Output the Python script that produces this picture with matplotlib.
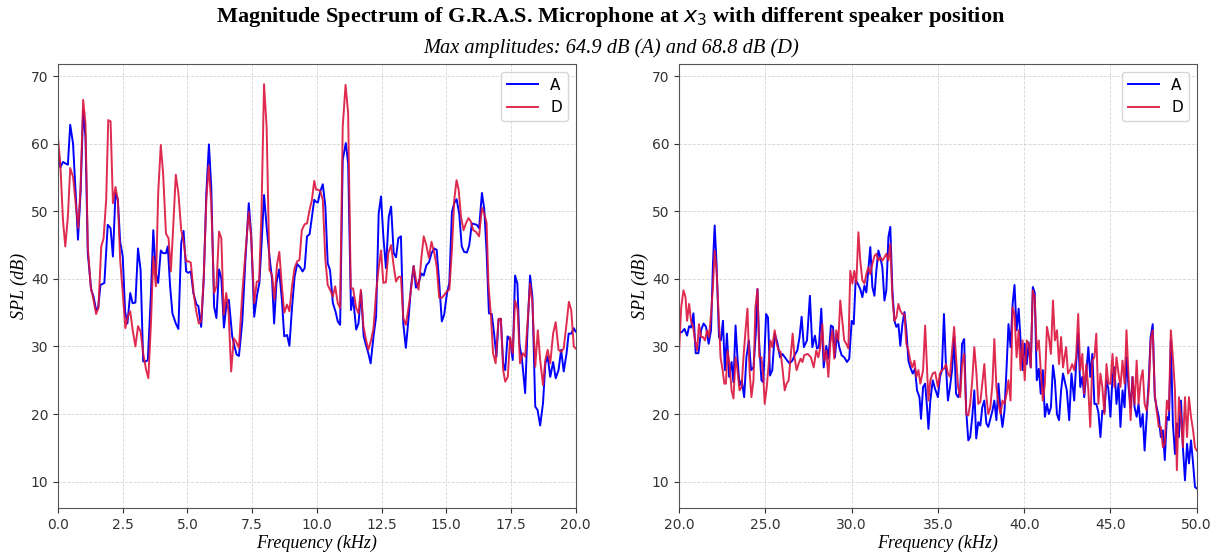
import matplotlib
matplotlib.use("Agg")
import matplotlib.pyplot as plt
from matplotlib.ticker import FormatStrFormatter

# ---- data (kHz, dB) ----
# left panel, speaker position A
freq_left_a = [0.0, 0.09, 0.19, 0.32, 0.38, 0.47, 0.58, 0.68, 0.77, 0.87, 0.97, 1.06, 1.15, 1.28, 1.37,
               1.47, 1.55, 1.64, 1.79, 1.92, 2.03, 2.12, 2.22, 2.31, 2.40, 2.50, 2.59, 2.68, 2.79, 2.88,
               2.99, 3.09, 3.19, 3.29, 3.40, 3.47, 3.59, 3.68, 3.78, 3.87, 3.97, 4.06, 4.17, 4.24, 4.33,
               4.42, 4.55, 4.65, 4.76, 4.85, 4.95, 5.04, 5.13, 5.23, 5.35, 5.42, 5.53, 5.63, 5.73, 5.83,
               5.92, 6.03, 6.12, 6.22, 6.31, 6.41, 6.51, 6.60, 6.73, 6.82, 6.90, 6.99, 7.12, 7.24, 7.37,
               7.46, 7.58, 7.69, 7.78, 7.88, 7.96, 8.06, 8.17, 8.27, 8.35, 8.44, 8.54, 8.65, 8.74, 8.85,
               8.94, 9.04, 9.14, 9.24, 9.36, 9.45, 9.53, 9.62, 9.72, 9.81, 9.90, 9.97,
               10.04, 10.13, 10.23, 10.33, 10.42, 10.51, 10.62, 10.72, 10.81, 10.90, 11.00, 11.12, 11.21,
               11.32, 11.40, 11.52, 11.61, 11.71, 11.81, 11.90, 11.99, 12.08, 12.19, 12.29, 12.39, 12.48,
               12.57, 12.67, 12.78, 12.87, 12.97, 13.06, 13.15, 13.25, 13.34, 13.44, 13.55, 13.64, 13.74,
               13.83, 13.93, 14.04, 14.13, 14.23, 14.34, 14.43, 14.54, 14.63, 14.73, 14.83, 14.92, 15.03,
               15.12, 15.22, 15.31, 15.40, 15.50, 15.60, 15.69, 15.80, 15.89, 15.99, 16.08, 16.18, 16.27,
               16.38, 16.47, 16.56, 16.65, 16.76, 16.85, 16.94, 17.02, 17.11, 17.20, 17.28, 17.37, 17.47,
               17.57, 17.66, 17.75, 17.83, 17.93, 18.05, 18.14, 18.24, 18.33, 18.44, 18.53, 18.63, 18.74,
               18.83, 18.92, 19.02, 19.13, 19.23, 19.34, 19.44, 19.54, 19.65, 19.73, 19.83, 19.93, 20.0]
spl_left_a = [59.0, 56.5, 57.3, 57.0, 56.9, 62.8, 60.0, 52.7, 45.8, 52.7, 64.9, 61.0, 43.8, 38.4, 37.4,
              35.4, 35.7, 39.1, 39.4, 48.0, 47.5, 43.3, 52.7, 51.7, 45.5, 43.3, 35.2, 33.4, 37.9, 36.4,
              36.5, 44.5, 41.3, 27.8, 27.8, 28.0, 37.9, 47.2, 40.8, 39.4, 44.2, 43.8, 43.8, 44.8, 38.9,
              34.9, 33.4, 32.6, 45.3, 47.1, 41.1, 40.9, 41.1, 37.9, 36.2, 36.0, 32.9, 39.9, 52.7, 59.9,
              53.6, 35.9, 34.2, 41.4, 40.1, 32.8, 36.4, 36.9, 31.5, 30.0, 28.8, 28.6, 33.7, 42.8, 51.2,
              46.7, 34.4, 37.6, 39.4, 46.3, 52.4, 47.7, 43.3, 39.9, 33.4, 39.4, 41.4, 36.9, 31.5, 31.7,
              30.1, 35.7, 40.3, 42.2, 41.7, 41.1, 41.6, 46.3, 46.6, 49.2, 51.7, 51.4,
              51.3, 52.9, 54.0, 50.7, 42.3, 41.3, 36.4, 35.2, 33.7, 33.2, 57.6, 60.1, 57.1,
              35.4, 37.3, 32.5, 33.4, 38.1, 31.5, 30.2, 29.0, 27.5, 31.5, 34.4, 49.7, 52.2,
              46.3, 41.6, 49.2, 50.7, 43.8, 43.2, 46.0, 46.3, 33.4, 29.8, 34.4, 38.9, 41.9,
              38.7, 39.4, 40.8, 40.5, 42.0, 42.5, 43.8, 44.5, 44.3, 39.4, 33.7, 34.7, 37.9,
              39.4, 49.9, 51.2, 51.8, 49.7, 44.8, 44.0, 43.9, 45.0, 48.2, 48.1, 48.0, 47.5,
              52.7, 50.3, 44.0, 34.9, 34.8, 31.9, 28.5, 33.9, 34.1, 27.5, 26.5, 31.5, 30.9,
              28.0, 40.5, 39.3, 30.4, 28.0, 23.1, 32.4, 40.5, 37.3, 21.1, 20.6, 18.3, 21.6,
              27.5, 28.5, 25.5, 27.7, 25.3, 26.5, 29.5, 26.3, 29.0, 31.9, 31.9, 32.7, 32.2]

# left panel, speaker position D
freq_left_d = [0.0, 0.09, 0.19, 0.28, 0.38, 0.47, 0.58, 0.68, 0.78, 0.87, 0.97, 1.06, 1.15, 1.26, 1.37,
               1.47, 1.56, 1.67, 1.76, 1.86, 1.94, 2.03, 2.12, 2.22, 2.31, 2.40, 2.50, 2.60, 2.69, 2.79,
               2.88, 2.99, 3.09, 3.19, 3.29, 3.40, 3.49, 3.59, 3.68, 3.78, 3.87, 3.97, 4.06, 4.17, 4.27,
               4.36, 4.45, 4.55, 4.65, 4.76, 4.85, 4.95, 5.04, 5.13, 5.24, 5.33, 5.44, 5.53, 5.63, 5.73,
               5.82, 5.92, 6.03, 6.12, 6.22, 6.31, 6.40, 6.50, 6.59, 6.69, 6.79, 6.88, 6.99, 7.12, 7.24,
               7.37, 7.47, 7.58, 7.68, 7.77, 7.86, 7.96, 8.06, 8.17, 8.27, 8.36, 8.46, 8.55, 8.65, 8.74,
               8.85, 8.94, 9.04, 9.14, 9.24, 9.33, 9.42, 9.53, 9.62, 9.72, 9.81, 9.90, 9.97,
               10.04, 10.13, 10.23, 10.33, 10.42, 10.51, 10.62, 10.71, 10.81, 10.90, 11.00, 11.11, 11.21,
               11.31, 11.40, 11.52, 11.61, 11.70, 11.80, 11.90, 11.99, 12.10, 12.19, 12.29, 12.38, 12.48,
               12.57, 12.67, 12.76, 12.87, 12.97, 13.06, 13.16, 13.25, 13.34, 13.44, 13.55, 13.64, 13.74,
               13.83, 13.93, 14.04, 14.13, 14.23, 14.33, 14.43, 14.54, 14.63, 14.73, 14.83, 14.94, 15.03,
               15.12, 15.22, 15.31, 15.40, 15.48, 15.57, 15.67, 15.76, 15.86, 15.95, 16.04, 16.14, 16.27,
               16.38, 16.48, 16.56, 16.63, 16.73, 16.81, 16.91, 17.02, 17.11, 17.20, 17.28, 17.38, 17.47,
               17.57, 17.66, 17.76, 17.85, 17.96, 18.05, 18.14, 18.24, 18.33, 18.44, 18.54, 18.63, 18.74,
               18.83, 18.92, 19.02, 19.13, 19.23, 19.34, 19.44, 19.54, 19.65, 19.74, 19.83, 19.93, 20.0]
spl_left_d = [60.8, 56.8, 48.7, 44.8, 49.2, 56.4, 55.1, 51.2, 47.5, 53.6, 66.5, 63.0, 44.8, 38.9, 36.9,
              34.8, 35.7, 44.8, 46.0, 51.7, 63.5, 63.3, 51.2, 53.6, 51.7, 42.8, 37.9, 32.7, 34.4, 35.2,
              32.5, 30.0, 33.0, 32.2, 29.0, 26.6, 25.3, 33.4, 43.3, 38.9, 52.7, 59.8, 55.6, 46.7, 46.0,
              41.1, 47.7, 55.4, 52.7, 47.2, 45.5, 42.6, 42.6, 42.4, 37.9, 35.4, 33.4, 33.7, 40.3, 51.7,
              56.8, 51.2, 37.9, 38.9, 47.0, 46.0, 34.7, 37.9, 35.0, 26.3, 31.2, 30.7, 29.8, 37.9, 43.8,
              49.9, 45.8, 36.4, 39.6, 39.7, 49.7, 68.8, 62.5, 41.3, 40.6, 36.9, 42.1, 44.0, 38.9, 35.0,
              36.2, 35.2, 38.9, 41.6, 42.6, 42.8, 47.2, 48.1, 48.2, 50.2, 51.7, 54.5, 53.2,
              53.2, 53.0, 51.7, 42.8, 39.1, 38.4, 37.4, 38.9, 36.4, 35.7, 62.5, 68.7, 64.5,
              38.6, 38.6, 35.7, 34.9, 38.4, 33.0, 31.0, 29.5, 31.0, 32.7, 37.9, 41.3, 44.2,
              39.4, 39.5, 43.8, 45.0, 41.9, 39.6, 40.3, 40.3, 34.2, 33.2, 35.9, 38.4, 41.9,
              39.9, 38.4, 43.1, 46.3, 45.0, 43.1, 45.5, 43.8, 41.9, 37.2, 37.2, 37.7, 38.2,
              38.4, 44.3, 51.7, 54.6, 53.2, 49.2, 47.2, 48.2, 49.0, 48.5, 47.2, 47.0, 46.3,
              50.5, 49.5, 48.3, 39.3, 34.4, 29.0, 27.5, 34.1, 34.1, 26.5, 24.8, 25.5, 31.4,
              29.0, 36.8, 35.4, 27.5, 29.0, 28.5, 33.4, 39.3, 36.4, 27.0, 32.4, 28.0, 24.3,
              28.0, 29.5, 27.5, 31.9, 33.6, 29.5, 29.2, 29.7, 33.4, 36.6, 35.4, 30.0, 29.7]

# right panel, speaker position A
freq_right_a = [20.0, 20.15, 20.31, 20.46, 20.58, 20.69, 20.83, 20.96, 21.12, 21.27, 21.42, 21.56, 21.71,
                21.85, 21.96, 22.06, 22.17, 22.31, 22.42, 22.54, 22.65, 22.77, 22.90, 23.04, 23.15, 23.27,
                23.38, 23.50, 23.63, 23.77, 23.90, 24.04, 24.17, 24.31, 24.44, 24.54, 24.63, 24.77, 24.88,
                25.04, 25.15, 25.27, 25.40, 25.54, 25.69, 25.85, 25.98, 26.13, 26.27, 26.40, 26.56, 26.69,
                26.85, 26.98, 27.10, 27.23, 27.41, 27.58, 27.72, 27.87, 27.99, 28.10, 28.24, 28.38, 28.53,
                28.65, 28.80, 28.92, 29.03, 29.15, 29.28, 29.42, 29.57, 29.73, 29.86, 30.00, 30.12, 30.23,
                30.35, 30.50, 30.62, 30.74, 30.85, 30.97, 31.08, 31.20, 31.32, 31.43, 31.55, 31.66, 31.78,
                31.90, 32.01, 32.13, 32.24, 32.36, 32.48, 32.59, 32.71, 32.82, 32.94, 33.06, 33.17, 33.29,
                33.40, 33.54, 33.67, 33.79, 33.93, 34.02, 34.14, 34.26, 34.37, 34.45, 34.56, 34.70, 34.84,
                35.00, 35.12, 35.23, 35.35, 35.47, 35.58, 35.70, 35.82, 35.94, 36.05, 36.17, 36.29, 36.40,
                36.52, 36.64, 36.76, 36.87, 36.99, 37.11, 37.22, 37.34, 37.46, 37.57, 37.69, 37.81, 37.92,
                38.04, 38.16, 38.27, 38.39, 38.51, 38.63, 38.74, 38.86, 38.98, 39.09, 39.21, 39.33, 39.44,
                39.56, 39.68, 39.79, 39.91, 40.03, 40.15, 40.26, 40.38, 40.50, 40.61, 40.73, 40.85, 40.96,
                41.08, 41.20, 41.32, 41.43, 41.55, 41.67, 41.78, 41.90, 42.02, 42.14, 42.25, 42.47, 42.61,
                42.74, 42.90, 43.01, 43.13, 43.25, 43.37, 43.48, 43.60, 43.72, 43.83, 43.95, 44.07, 44.18,
                44.30, 44.42, 44.53, 44.65, 44.77, 44.88, 45.00, 45.12, 45.23, 45.35, 45.47, 45.58, 45.70,
                45.82, 45.93, 46.05, 46.17, 46.28, 46.40, 46.52, 46.63, 46.75, 46.87, 46.98, 47.10, 47.22,
                47.33, 47.45, 47.57, 47.68, 47.80, 47.92, 48.04, 48.15, 48.27, 48.39, 48.50, 48.62, 48.74,
                48.85, 48.97, 49.09, 49.20, 49.32, 49.44, 49.55, 49.67, 49.79, 49.90, 50.0]
spl_right_a = [32.1, 32.1, 32.6, 31.6, 33.0, 32.8, 34.9, 29.0, 29.0, 32.4, 33.4, 32.9, 30.4,
               32.4, 42.2, 47.9, 42.2, 31.4, 30.9, 33.8, 26.5, 31.9, 25.5, 27.7, 24.7, 33.1,
               28.4, 24.2, 25.0, 22.5, 28.4, 30.9, 26.5, 26.9, 31.9, 38.5, 30.9, 25.0, 24.7,
               34.8, 34.3, 25.7, 26.5, 31.9, 30.6, 28.4, 28.9, 28.4, 27.9, 27.5, 27.9, 28.7,
               29.4, 31.4, 34.4, 29.9, 30.9, 37.5, 29.9, 31.6, 29.7, 29.9, 35.6, 26.9, 30.1,
               28.2, 33.1, 32.9, 28.4, 31.9, 29.9, 28.7, 28.4, 27.7, 28.2, 33.8, 33.3, 39.8,
               39.3, 38.5, 37.3, 39.0, 38.0, 41.5, 44.7, 38.8, 37.5, 41.2, 44.2, 43.2, 41.7,
               36.8, 38.3, 46.2, 47.7, 38.3, 33.8, 32.9, 33.3, 30.1, 33.3, 35.1, 32.4, 27.9,
               26.9, 26.0, 26.7, 23.5, 22.5, 19.3, 24.0, 24.5, 21.0, 17.8, 22.0, 25.0, 23.7,
               22.5, 25.5, 26.5, 34.8, 26.9, 22.0, 24.0, 26.5, 31.4, 23.0, 22.5, 23.5, 30.4,
               31.1, 20.5, 16.1, 16.6, 19.6, 23.5, 16.4, 18.8, 18.3, 21.0, 22.0, 18.6, 18.1,
               19.3, 20.5, 22.0, 19.1, 24.5, 20.5, 18.1, 20.5, 26.9, 33.3, 29.9, 36.3, 39.1,
               32.4, 35.6, 30.9, 26.5, 30.4, 27.4, 30.6, 26.9, 38.8, 38.0, 25.0, 26.7, 23.0,
               26.5, 19.6, 21.5, 20.0, 21.0, 27.2, 25.0, 20.0, 19.1, 23.5, 26.0, 23.5, 19.1,
               26.0, 22.0, 27.4, 31.9, 24.0, 25.5, 22.5, 26.0, 29.9, 25.5, 28.9, 21.5, 21.5,
               20.3, 16.6, 20.5, 20.3, 25.0, 23.7, 19.6, 25.5, 26.9, 21.5, 24.5, 18.1, 23.5,
               21.0, 28.4, 24.0, 21.0, 25.5, 21.0, 19.6, 21.5, 18.1, 20.0, 14.6, 19.6, 25.0,
               31.4, 33.3, 22.5, 21.0, 19.6, 16.6, 17.6, 13.2, 19.6, 19.1, 30.9, 18.6, 14.1,
               18.6, 16.6, 22.0, 15.1, 10.2, 15.6, 12.7, 16.1, 12.7, 9.2, 9.0]

# right panel, speaker position D
freq_right_d = [20.0, 20.12, 20.25, 20.37, 20.46, 20.58, 20.69, 20.81, 20.92, 21.04, 21.15, 21.27, 21.38,
                21.50, 21.62, 21.73, 21.85, 21.96, 22.06, 22.17, 22.29, 22.40, 22.52, 22.62, 22.71, 22.81,
                22.92, 23.04, 23.15, 23.27, 23.38, 23.50, 23.62, 23.73, 23.85, 23.96, 24.08, 24.19, 24.31,
                24.42, 24.54, 24.65, 24.77, 24.88, 24.96, 25.08, 25.19, 25.29, 25.40, 25.54, 25.65, 25.77,
                25.88, 26.00, 26.12, 26.23, 26.35, 26.46, 26.58, 26.69, 26.81, 26.92, 27.04, 27.15, 27.25,
                27.45, 27.64, 27.80, 27.95, 28.07, 28.18, 28.30, 28.41, 28.53, 28.65, 28.76, 28.88, 28.99,
                29.11, 29.23, 29.34, 29.46, 29.57, 29.69, 29.81, 29.92, 30.04, 30.15, 30.27, 30.39, 30.50,
                30.62, 30.74, 30.85, 30.97, 31.08, 31.20, 31.32, 31.43, 31.55, 31.66, 31.78, 31.90, 32.01,
                32.13, 32.24, 32.36, 32.48, 32.59, 32.71, 32.82, 32.94, 33.06, 33.17, 33.29, 33.40, 33.52,
                33.64, 33.75, 33.87, 33.98, 34.14, 34.26, 34.37, 34.45, 34.56, 34.70, 34.84, 35.00, 35.12,
                35.23, 35.35, 35.47, 35.58, 35.70, 35.82, 35.94, 36.05, 36.17, 36.29, 36.40, 36.52, 36.64,
                36.76, 36.87, 36.99, 37.11, 37.22, 37.34, 37.46, 37.57, 37.69, 37.81, 37.92, 38.04, 38.16,
                38.27, 38.39, 38.51, 38.63, 38.74, 38.86, 38.98, 39.09, 39.21, 39.33, 39.44, 39.56, 39.68,
                39.79, 39.91, 40.03, 40.15, 40.26, 40.38, 40.50, 40.61, 40.73, 40.85, 40.96, 41.08, 41.20,
                41.32, 41.43, 41.55, 41.67, 41.78, 41.90, 42.02, 42.14, 42.25, 42.43, 42.54, 42.66, 42.78,
                42.90, 43.01, 43.13, 43.25, 43.37, 43.48, 43.60, 43.72, 43.83, 43.95, 44.07, 44.18, 44.30,
                44.42, 44.53, 44.65, 44.77, 44.88, 45.00, 45.12, 45.23, 45.35, 45.47, 45.58, 45.70, 45.82,
                45.93, 46.05, 46.17, 46.28, 46.40, 46.52, 46.63, 46.75, 46.87, 46.98, 47.10, 47.22, 47.33,
                47.45, 47.57, 47.68, 47.80, 47.92, 48.04, 48.15, 48.27, 48.39, 48.50, 48.62, 48.74, 48.85,
                48.97, 49.09, 49.20, 49.32, 49.44, 49.55, 49.67, 49.79, 49.90, 50.0]
spl_right_d = [29.4, 35.8, 38.3, 37.3, 33.8, 36.3, 33.8, 32.9, 30.9, 29.4, 33.3, 31.4, 31.4,
               30.9, 32.4, 31.4, 34.8, 38.8, 44.2, 41.2, 34.8, 28.4, 26.5, 24.5, 24.5, 29.4,
               27.4, 23.5, 22.3, 28.4, 26.5, 23.5, 24.0, 28.4, 32.4, 35.6, 26.5, 22.5, 25.0,
               35.8, 38.5, 28.4, 28.4, 25.5, 21.5, 24.0, 27.4, 30.9, 29.9, 32.4, 30.4, 29.4,
               29.2, 26.5, 23.5, 24.5, 25.0, 28.4, 31.9, 28.4, 26.5, 27.4, 28.2, 27.7, 28.7,
               28.9, 28.4, 26.9, 29.4, 28.4, 29.9, 33.3, 27.9, 29.4, 25.5, 30.4, 32.4, 28.2,
               32.4, 30.9, 36.8, 33.8, 30.9, 30.4, 29.7, 41.2, 39.3, 41.2, 39.3, 46.9, 42.7,
               39.8, 39.3, 40.7, 41.7, 40.7, 42.2, 43.4, 43.7, 42.7, 43.2, 42.7, 43.2, 43.7,
               42.7, 45.2, 37.3, 33.8, 34.3, 36.3, 35.3, 34.8, 34.8, 30.4, 29.4, 27.9, 26.9,
               27.9, 25.5, 26.5, 24.5, 26.5, 33.1, 26.5, 22.0, 25.0, 26.0, 26.2, 24.0, 26.0,
               26.5, 26.7, 27.4, 26.0, 25.5, 29.4, 32.9, 28.4, 24.0, 22.5, 27.4, 28.9, 20.0,
               19.8, 21.5, 25.0, 29.9, 26.5, 21.5, 21.8, 24.5, 27.4, 22.5, 20.0, 21.0, 24.5,
               31.1, 24.0, 21.5, 20.0, 22.0, 21.5, 23.0, 25.0, 22.0, 35.8, 34.8, 28.4, 32.4,
               26.5, 30.9, 25.0, 30.9, 30.4, 26.9, 38.3, 37.3, 29.4, 30.9, 26.5, 22.0, 24.5,
               32.9, 31.4, 28.9, 36.8, 30.9, 32.4, 27.4, 31.4, 26.9, 29.9, 26.0, 26.5, 27.4,
               26.5, 28.4, 34.8, 26.5, 28.9, 23.0, 27.4, 23.5, 18.1, 27.9, 28.4, 31.9, 21.5,
               26.0, 24.0, 20.0, 27.4, 24.5, 24.5, 28.9, 24.0, 28.4, 26.0, 24.0, 27.9, 24.5,
               32.4, 25.5, 19.1, 25.5, 21.5, 27.9, 21.5, 25.0, 26.5, 21.5, 20.5, 23.5, 30.9,
               32.4, 23.0, 20.5, 18.1, 18.1, 15.1, 15.6, 22.0, 20.5, 32.4, 28.4, 23.5, 11.7,
               22.5, 19.6, 15.1, 22.5, 16.6, 22.5, 19.6, 17.6, 15.1, 14.6]

max_a = 64.9
max_d = 68.8

fig, axes = plt.subplots(1, 2, figsize=(12.22, 5.56), dpi=100)
fig.subplots_adjust(left=0.0475, right=0.9793, bottom=0.0863, top=0.885, wspace=0.2)

panels = [
    (axes[0], freq_left_a, spl_left_a, freq_left_d, spl_left_d, (0, 20), [0, 2.5, 5, 7.5, 10, 12.5, 15, 17.5, 20]),
    (axes[1], freq_right_a, spl_right_a, freq_right_d, spl_right_d, (20, 50), [20, 25, 30, 35, 40, 45, 50]),
]

for ax, fa, sa, fd, sd, xlim, xticks in panels:
    ax.plot(fa, sa, color="blue", lw=1.4, label="A")
    ax.plot(fd, sd, color="crimson", lw=1.4, alpha=0.9, label="D")
    ax.set_xlim(*xlim)
    ax.set_ylim(6.1, 71.8)
    ax.set_xticks(xticks)
    ax.set_yticks([10, 20, 30, 40, 50, 60, 70])
    ax.xaxis.set_major_formatter(FormatStrFormatter("%.1f"))
    ax.grid(True, linestyle="--", linewidth=0.6, color="#cccccc", alpha=0.8)
    ax.tick_params(labelsize=10, colors="#333333")
    for sp in ax.spines.values():
        sp.set_color("#555555")
    ax.set_xlabel("Frequency (kHz)", family="Liberation Serif", style="italic", fontsize=13, labelpad=2)
    ax.set_ylabel("SPL (dB)", family="Liberation Serif", style="italic", fontsize=13, labelpad=2)
    ax.legend(loc="upper right", fontsize=11)

fig.text(0.5, 0.970, "Magnitude Spectrum of G.R.A.S. Microphone at $x_3$ with different speaker position",
         ha="center", va="center", family="Liberation Serif", weight="bold", fontsize=16)
fig.text(0.5, 0.914, f"Max amplitudes: {max_a} dB (A) and {max_d} dB (D)",
         ha="center", va="center", family="Liberation Serif", style="italic", fontsize=14.7)

fig.savefig("out.png", dpi=100)
